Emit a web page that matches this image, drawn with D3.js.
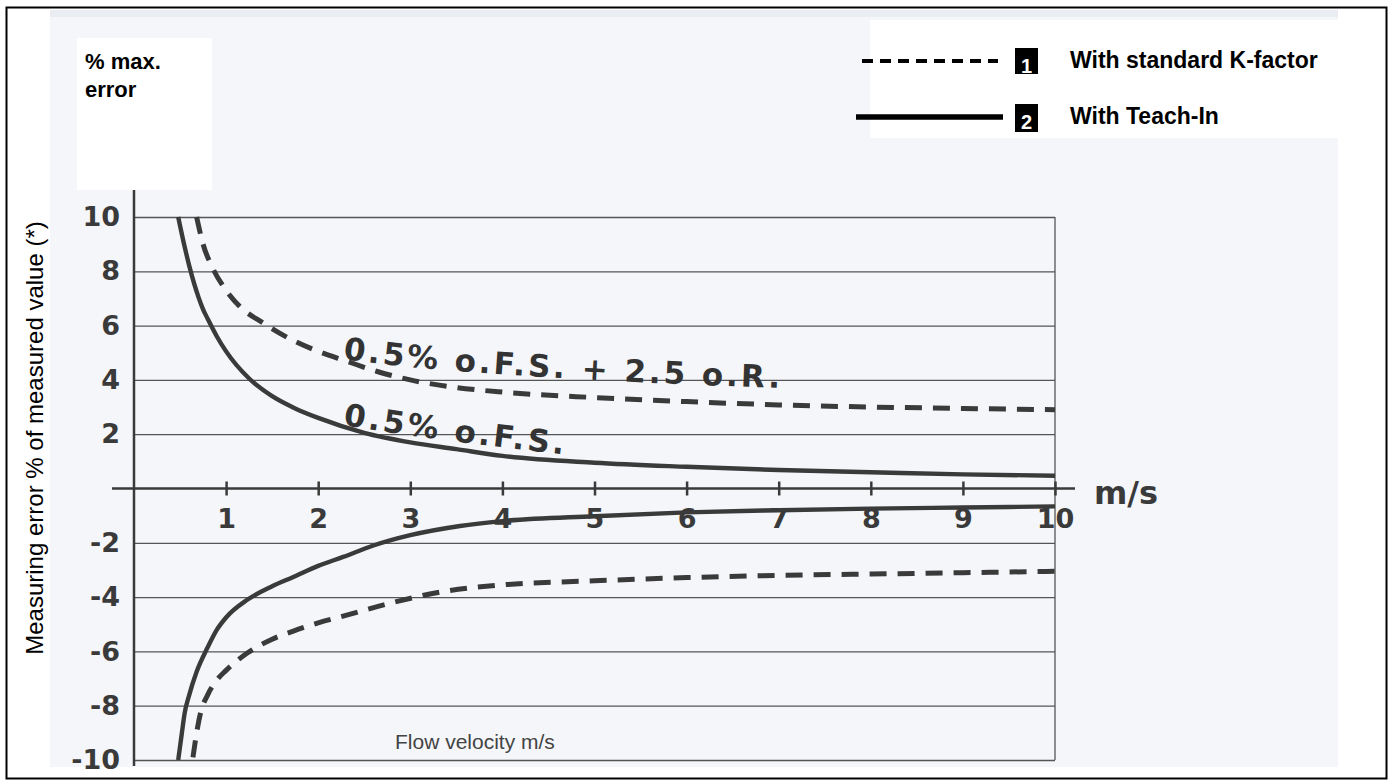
<!DOCTYPE html>
<html>
<head>
<meta charset="utf-8">
<script src="https://cdn.jsdelivr.net/npm/d3@7"></script>
<style>
  body { margin: 0; background: #fff; }
  svg { display: block; }
</style>
</head>
<body>
<div id="chart"></div>
<script>
// tick values
const xTicks = [1, 2, 3, 4, 5, 6, 7, 8, 9, 10];
const yTicks = [10, 8, 6, 4, 2, -2, -4, -6, -8, -10];

// curves: flow velocity (m/s) -> max. error (%)
// 1 = with standard K-factor (dashed), 2 = with Teach-In (solid)
const kUpperV = [0.68, 0.75, 0.85, 1.0, 1.15, 1.4, 1.73, 2.0, 2.3, 2.65, 3.0, 3.5, 4.0, 5.0, 6.0, 7.0, 8.0, 9.0, 10.0];
const kUpperE = [10, 9.0, 8.15, 7.3, 6.7, 6.1, 5.45, 5.05, 4.7, 4.3, 4.0, 3.72, 3.55, 3.35, 3.2, 3.08, 3.0, 2.95, 2.9];
const kLowerV = [0.64, 0.68, 0.72, 0.8, 0.9, 1.0, 1.23, 1.5, 1.73, 2.0, 2.27, 2.81, 3.35, 4.0, 5.0, 6.0, 7.0, 8.0, 9.0, 10.0];
const kLowerE = [-9.9, -9.0, -8.3, -7.6, -7.05, -6.7, -6.06, -5.55, -5.25, -4.95, -4.7, -4.2, -3.8, -3.55, -3.4, -3.28, -3.2, -3.15, -3.1, -3.05];
const tUpperV = [0.48, 0.55, 0.6, 0.7, 0.75, 0.8, 0.9, 1.0, 1.25, 1.5, 1.75, 2.0, 2.5, 3.0, 3.5, 4.0, 5.0, 6.0, 7.0, 8.0, 9.0, 10.0];
const tUpperE = [10, 8.9, 8.2, 7.05, 6.6, 6.25, 5.6, 5.05, 4.05, 3.4, 2.95, 2.6, 2.05, 1.7, 1.45, 1.2, 0.95, 0.8, 0.68, 0.6, 0.52, 0.47];
const tLowerV = [0.48, 0.52, 0.55, 0.6, 0.68, 0.8, 0.9, 1.0, 1.23, 1.5, 1.73, 2.0, 2.27, 2.6, 3.0, 3.54, 4.0, 5.0, 6.0, 7.0, 8.0, 9.0, 10.0];
const tLowerE = [-10, -9.0, -8.27, -7.6, -6.75, -5.85, -5.2, -4.75, -4.1, -3.6, -3.26, -2.85, -2.52, -2.1, -1.72, -1.38, -1.2, -1.02, -0.88, -0.8, -0.74, -0.7, -0.66];

const legendLabels = ["With standard K-factor", "With Teach-In"];

const W = 1390, H = 783;
const svg = d3.select("#chart").append("svg")
    .attr("width", W)
    .attr("height", H);

// ---- scan-like background ----
svg.append("rect").attr("x", 50).attr("y", 12).attr("width", 1288).attr("height", 755).attr("fill", "#f4f6fa");
svg.append("rect").attr("x", 50).attr("y", 10).attr("width", 1288).attr("height", 7).attr("fill", "#e9ecf1");
svg.append("rect").attr("x", 77).attr("y", 38).attr("width", 135).attr("height", 152).attr("fill", "#fff");
svg.append("rect").attr("x", 870).attr("y", 20).attr("width", 468).attr("height", 118).attr("fill", "#fff");

// outer frame
svg.append("rect")
    .attr("x", 6.5).attr("y", 7.5)
    .attr("width", 1380).attr("height", 771)
    .attr("fill", "none")
    .attr("stroke", "#000")
    .attr("stroke-width", 2);

// ---- scales ----
const x = d3.scaleLinear().domain([0, 10]).range([134, 1055]);
const y = d3.scaleLinear().domain([-10, 10]).range([760, 217]);

const ink = "#3a3a3a";
const tickFont = "'DejaVu Sans', sans-serif";

// y axis with grid lines
const yAxis = svg.append("g")
    .attr("transform", `translate(${x(0)},0)`)
    .call(d3.axisLeft(y).tickValues(yTicks).tickSize(-(x(10) - x(0))).tickPadding(14).tickFormat(d => String(d)));
yAxis.select(".domain").remove();
yAxis.selectAll(".tick line").attr("stroke", "#555").attr("stroke-width", 1.3);
yAxis.selectAll(".tick text")
    .attr("fill", ink)
    .style("font-family", tickFont)
    .style("font-weight", "bold")
    .style("font-size", "27px");

// vertical axis line and right border at 10 m/s
svg.append("line")
    .attr("x1", x(0)).attr("x2", x(0))
    .attr("y1", 190).attr("y2", 766)
    .attr("stroke", ink).attr("stroke-width", 2.5);
svg.append("line")
    .attr("x1", x(10)).attr("x2", x(10))
    .attr("y1", y(10)).attr("y2", y(-10))
    .attr("stroke", "#555").attr("stroke-width", 1.3);

// x axis through zero
svg.append("line")
    .attr("x1", 112).attr("x2", 1075)
    .attr("y1", y(0)).attr("y2", y(0))
    .attr("stroke", ink).attr("stroke-width", 2.5);
const xAxis = svg.append("g")
    .attr("transform", `translate(0,${y(0)})`)
    .call(d3.axisBottom(x).tickValues(xTicks).tickSize(7).tickPadding(13));
xAxis.select(".domain").remove();
xAxis.selectAll(".tick line").attr("y1", -7).attr("y2", 7).attr("stroke", ink).attr("stroke-width", 2.5);
xAxis.selectAll(".tick text")
    .attr("fill", ink)
    .style("font-family", tickFont)
    .style("font-weight", "bold")
    .style("font-size", "27px");

svg.append("text")
    .attr("x", 1094).attr("y", y(0) + 15)
    .attr("fill", ink)
    .style("font-family", tickFont)
    .style("font-weight", "bold")
    .style("font-size", "32px")
    .text("m/s");

// ---- curves ----
const line = d3.line()
    .x(d => x(d[0]))
    .y(d => y(d[1]))
    .curve(d3.curveMonotoneX);

const series = [
    {v: kUpperV, e: kUpperE, dashed: true},
    {v: kLowerV, e: kLowerE, dashed: true},
    {v: tUpperV, e: tUpperE, dashed: false},
    {v: tLowerV, e: tLowerE, dashed: false}
];

svg.append("g")
    .selectAll("path")
    .data(series)
    .join("path")
    .attr("d", d => line(d3.zip(d.v, d.e)))
    .attr("fill", "none")
    .attr("stroke", ink)
    .attr("stroke-width", d => d.dashed ? 5 : 4.4)
    .attr("stroke-dasharray", d => d.dashed ? "17,11" : null);

// ---- curve labels, written along gently bent baselines ----
const defs = svg.append("defs");
defs.append("path").attr("id", "kLabelPath").attr("d", "M 343 359 Q 470 377 780 388");
defs.append("path").attr("id", "tLabelPath").attr("d", "M 343 425 Q 440 441 570 455");

const curveLabels = [
    {id: "kLabelPath", text: "0.5% o.F.S. + 2.5 o.R."},
    {id: "tLabelPath", text: "0.5% o.F.S."}
];
curveLabels.forEach(c => {
    svg.append("text")
        .attr("fill", "#333")
        .style("font-family", tickFont)
        .style("font-weight", "bold")
        .style("font-size", "31px")
        .style("letter-spacing", "3px")
        .append("textPath")
        .attr("href", "#" + c.id)
        .text(c.text);
});

// ---- axis titles ----
svg.append("text")
    .attr("x", 395).attr("y", 749)
    .attr("fill", "#444")
    .style("font-family", "'Liberation Sans', Arial, sans-serif")
    .style("font-size", "21px")
    .text("Flow velocity m/s");

svg.append("text")
    .attr("transform", "translate(43,438) rotate(-90)")
    .attr("text-anchor", "middle")
    .attr("fill", "#000")
    .style("font-family", "'Liberation Sans', Arial, sans-serif")
    .style("font-size", "24px")
    .text("Measuring error % of measured value (*)");

const boldFont = "'Liberation Sans', Arial, sans-serif";
svg.append("text")
    .attr("x", 85).attr("y", 69)
    .style("font-family", boldFont)
    .style("font-weight", "bold")
    .style("font-size", "22px")
    .text("% max.");
svg.append("text")
    .attr("x", 85).attr("y", 97)
    .style("font-family", boldFont)
    .style("font-weight", "bold")
    .style("font-size", "22px")
    .text("error");

// ---- legend ----
const legendY = [61, 117];
const legend = svg.append("g")
    .selectAll("g")
    .data(legendLabels)
    .join("g")
    .attr("transform", (d, i) => `translate(0,${legendY[i]})`);

legend.append("line")
    .attr("x1", (d, i) => i === 0 ? 862 : 856)
    .attr("x2", (d, i) => i === 0 ? 998 : 1003)
    .attr("y1", 0).attr("y2", 0)
    .attr("stroke", "#000")
    .attr("stroke-width", (d, i) => i === 0 ? 4 : 5.5)
    .attr("stroke-dasharray", (d, i) => i === 0 ? "11,7" : null);

legend.append("rect")
    .attr("x", 1015).attr("y", -13)
    .attr("width", 23).attr("height", (d, i) => i === 0 ? 26 : 28)
    .attr("fill", "#000");

legend.append("text")
    .attr("x", 1026.5).attr("y", 12)
    .attr("text-anchor", "middle")
    .attr("fill", "#fff")
    .style("font-family", boldFont)
    .style("font-weight", "bold")
    .style("font-size", "20px")
    .text((d, i) => i + 1);

legend.append("text")
    .attr("x", 1070).attr("y", 7)
    .style("font-family", boldFont)
    .style("font-weight", "bold")
    .style("font-size", "23px")
    .text(d => d);
</script>
</body>
</html>
